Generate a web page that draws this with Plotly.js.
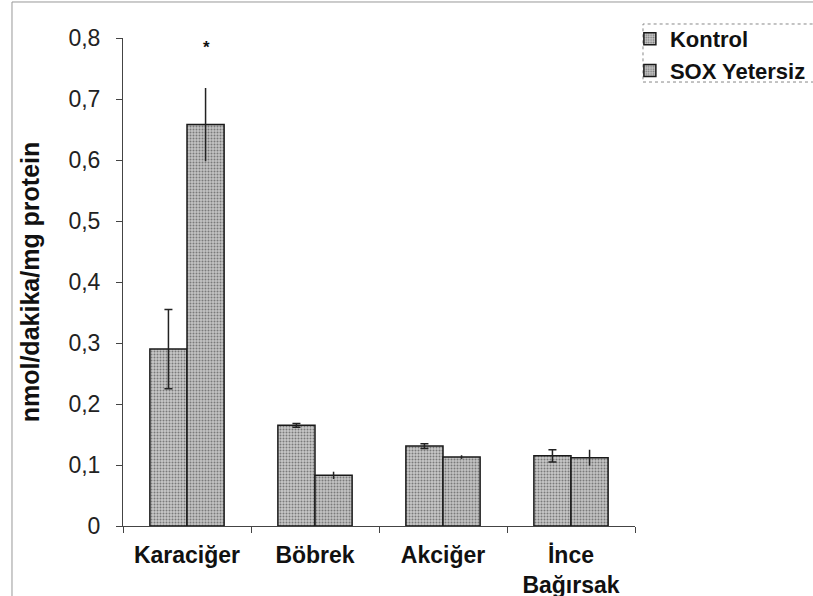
<!DOCTYPE html>
<html>
<head>
<meta charset="utf-8">
<script src="https://cdn.plot.ly/plotly-3.0.1.min.js"></script>
<style>html,body{margin:0;padding:0;background:#fff;}#chart{width:813px;height:596px;}</style>
</head>
<body>
<div id="chart"></div>
<script>
var categories = ["Karaciğer", "Böbrek", "Akciğer", "İnce<br>Bağırsak"];
var seriesNames = ["Kontrol", "SOX Yetersiz"];
var kontrol = [0.29, 0.165, 0.131, 0.115];
var kontrolErr = [0.065, 0.003, 0.004, 0.010];
var sox = [0.658, 0.083, 0.113, 0.112];
var soxErr = [0.060, 0.006, 0.003, 0.013];
var yTickVals = [0, 0.1, 0.2, 0.3, 0.4, 0.5, 0.6, 0.7, 0.8];
var yTickText = ["0", "0,1", "0,2", "0,3", "0,4", "0,5", "0,6", "0,7", "0,8"];
var starLabel = "*";
var starValue = 0.785;

var FONT = "Liberation Sans, Arial, sans-serif";
var FS = 23;

function barTrace(name, y, err, capw, bg) {
  return {
    type: "bar",
    name: name,
    x: categories,
    y: y,
    error_y: {type: "data", array: err, visible: true, color: "#222", thickness: 1.5, width: capw},
    marker: {
      color: bg,
      line: {color: "#1a1a1a", width: 1.5},
      pattern: {shape: ".", fgcolor: "#7a7a7a", bgcolor: bg, size: 3, solidity: 0.35}
    }
  };
}

var data = [
  barTrace(seriesNames[0], kontrol, kontrolErr, 4, "#c8c8c8"),
  barTrace(seriesNames[1], sox, soxErr, 0, "#c4c4c4")
];

var layout = {
  width: 813, height: 596,
  margin: {l: 123, r: 178, t: 38, b: 70, pad: 0, autoexpand: false},
  paper_bgcolor: "#fff", plot_bgcolor: "#fff",
  barmode: "group", bargap: 0.42, bargroupgap: 0,
  font: {family: FONT, color: "#1a1a1a", size: FS},
  showlegend: true,
  legend: {
    x: 0.99, y: 1.041, xanchor: "left", yanchor: "top",
    bgcolor: "rgba(0,0,0,0)", borderwidth: 0,
    font: {family: FONT, size: 22, color: "#111", weight: "bold"},
    itemwidth: 30, tracegroupgap: 0
  },
  xaxis: {
    type: "category",
    tickvals: categories, ticktext: categories,
    showline: true, linecolor: "#444", linewidth: 1,
    ticks: "outside", ticklen: 6, tickcolor: "#444", tickson: "boundaries",
    showgrid: false, zeroline: false,
    tickfont: {family: FONT, size: FS, color: "#111", weight: "bold"},
    ticklabelstandoff: 8,
    fixedrange: true
  },
  yaxis: {
    range: [0, 0.8],
    tickvals: yTickVals, ticktext: yTickText,
    showline: true, linecolor: "#444", linewidth: 1,
    ticks: "outside", ticklen: 6, tickcolor: "#444",
    showgrid: false, zeroline: false,
    tickfont: {family: FONT, size: FS, color: "#222"},
    ticklabelstandoff: 11,
    title: {text: "nmol/dakika/mg protein", font: {family: FONT, size: 25, color: "#111", weight: "bold"}, standoff: 21},
    fixedrange: true
  },
  annotations: [{
    x: categories[0], y: starValue, xref: "x", yref: "y", xshift: 19,
    text: starLabel, showarrow: false,
    font: {family: FONT, size: 17, color: "#111", weight: "bold"}
  }],
  shapes: [{
    type: "rect", xref: "paper", yref: "paper",
    x0: -0.2168, x1: 1.5, y0: -0.3, y1: 1.0738,
    line: {color: "#999", width: 1}, fillcolor: "rgba(0,0,0,0)", layer: "below"
  }, {
    type: "rect", xref: "paper", yref: "paper",
    x0: 1.0156, x1: 1.4, y0: 0.9098, y1: 1.0287,
    line: {color: "#888", width: 1, dash: "dot"}, fillcolor: "rgba(0,0,0,0)", layer: "below"
  }]
};

Plotly.newPlot("chart", data, layout, {displayModeBar: false, staticPlot: true});
</script>
</body>
</html>
